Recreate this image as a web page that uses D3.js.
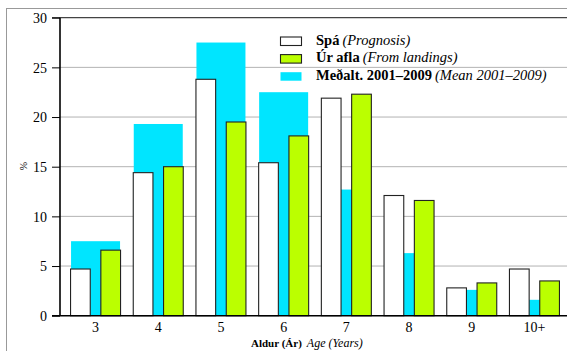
<!DOCTYPE html>
<html>
<head>
<meta charset="utf-8">
<script src="https://cdn.jsdelivr.net/npm/d3@7"></script>
<style>
body{margin:0;background:#fff;}
</style>
</head>
<body>
<script>
var ages=["3","4","5","6","7","8","9","10+"]
var prognosis=[4.7,14.4,23.8,15.4,21.9,12.1,2.8,4.7]
var landings=[6.6,15.0,19.5,18.1,22.3,11.6,3.3,3.5]
var mean0109=[7.5,19.3,27.5,22.5,12.7,6.3,2.6,1.6]
var yTicks=[0,5,10,15,20,25,30]

var size={width:567,height:351}
var serif="Liberation Serif"
var cyan="#00e5ff", lime="#bbff00"

var svg=d3.select("body").append("svg")
          .attr("width",size.width)
          .attr("height",size.height)

// outer frame
svg.append("rect").attr("x",6.5).attr("y",8.5).attr("width",600).attr("height",400)
   .attr("fill","none").attr("stroke","#999").attr("stroke-width",1)

var xScale=d3.scaleBand().domain(ages).range([64.2,565.8])
var yScale=d3.scaleLinear().domain([0,30]).range([315.7,17.7])
var bw=xScale.bandwidth()
var cx=function(d){return xScale(d)+bw/2}

// gridlines
svg.selectAll("line.grid").data(yTicks.slice(1,6)).enter().append("line")
   .classed("grid",true)
   .attr("x1",60).attr("x2",570)
   .attr("y1",function(d){return yScale(d)}).attr("y2",function(d){return yScale(d)})
   .attr("stroke","#b3b3b3").attr("stroke-width",1)
svg.append("line").attr("x1",52).attr("x2",570).attr("y1",yScale(30)).attr("y2",yScale(30))
   .attr("stroke","#444").attr("stroke-width",1.2)

var plot=svg.append("g")
// mean bars sit behind
plot.selectAll("rect.mean").data(ages).enter().append("rect")
    .classed("mean",true)
    .attr("x",function(d){return cx(d)-24.5})
    .attr("width",49)
    .attr("y",function(d,i){return yScale(mean0109[i])})
    .attr("height",function(d,i){return yScale(0)-yScale(mean0109[i])})
    .attr("fill",cyan)
plot.selectAll("rect.prog").data(ages).enter().append("rect")
    .classed("prog",true)
    .attr("x",function(d){return cx(d)-25})
    .attr("width",19.7)
    .attr("y",function(d,i){return yScale(prognosis[i])})
    .attr("height",function(d,i){return yScale(0)-yScale(prognosis[i])})
    .attr("fill","#fff").attr("stroke","#222").attr("stroke-width",1.1)
plot.selectAll("rect.land").data(ages).enter().append("rect")
    .classed("land",true)
    .attr("x",function(d){return cx(d)+5.3})
    .attr("width",19.7)
    .attr("y",function(d,i){return yScale(landings[i])})
    .attr("height",function(d,i){return yScale(0)-yScale(landings[i])})
    .attr("fill",lime).attr("stroke","#222").attr("stroke-width",1.1)

// axes
var yAxis=svg.append("g").attr("transform","translate(60,0)")
             .call(d3.axisLeft(yScale).tickValues(yTicks).tickSize(8).tickPadding(5))
yAxis.select(".domain").remove()
yAxis.selectAll("line").attr("stroke","#000")
yAxis.selectAll("text").attr("fill","#000").attr("dy","0.34em").attr("font-size",14)
svg.append("line").attr("x1",60).attr("x2",60).attr("y1",yScale(30)).attr("y2",yScale(0))
   .attr("stroke","#000").attr("stroke-width",1.6)

var xAxis=svg.append("g").attr("transform","translate(0,"+yScale(0)+")")
             .call(d3.axisBottom(xScale).tickSize(0).tickPadding(6))
xAxis.select(".domain").remove()
xAxis.selectAll("text").attr("fill","#000").attr("font-size",14)
svg.append("line").attr("x1",52).attr("x2",570).attr("y1",yScale(0)).attr("y2",yScale(0))
   .attr("stroke","#000").attr("stroke-width",1.6)

// axis titles
svg.append("text").attr("transform","translate(27,166) rotate(-90)")
   .attr("text-anchor","middle").attr("font-size",10).text("%")
var xt=svg.append("text").attr("x",251).attr("y",347)
xt.append("tspan").attr("font-weight","bold").attr("font-size",11).text("Aldur (Ár)")
xt.append("tspan").attr("font-style","italic").attr("font-size",12).attr("dx",5).text("Age (Years)")

// legend
var legendItems=[
  {b:"Spá",i:"(Prognosis)",fill:"#fff",stroke:"#222"},
  {b:"Úr afla",i:"(From landings)",fill:lime,stroke:"#222"},
  {b:"Meðalt. 2001–2009",i:"(Mean 2001–2009)",fill:cyan,stroke:"none"}]
var legend=svg.append("g").attr("transform","translate(280,36.5)")
var li=legend.selectAll("g").data(legendItems).enter().append("g")
             .attr("transform",function(d,i){return "translate(0,"+(i*17.6)+")"})
li.append("rect").attr("x",0.5).attr("y",0.5).attr("width",21).attr("height",8.5)
  .attr("fill",function(d){return d.fill}).attr("stroke",function(d){return d.stroke}).attr("stroke-width",1.1)
var lt=li.append("text").attr("x",36).attr("y",8).attr("font-size",14.5)
lt.append("tspan").attr("font-weight","bold").text(function(d){return d.b})
lt.append("tspan").attr("font-style","italic").attr("dx",3).text(function(d){return d.i})

// serif on every text node
svg.selectAll("text").attr("font-family",serif)
</script>
</body>
</html>
